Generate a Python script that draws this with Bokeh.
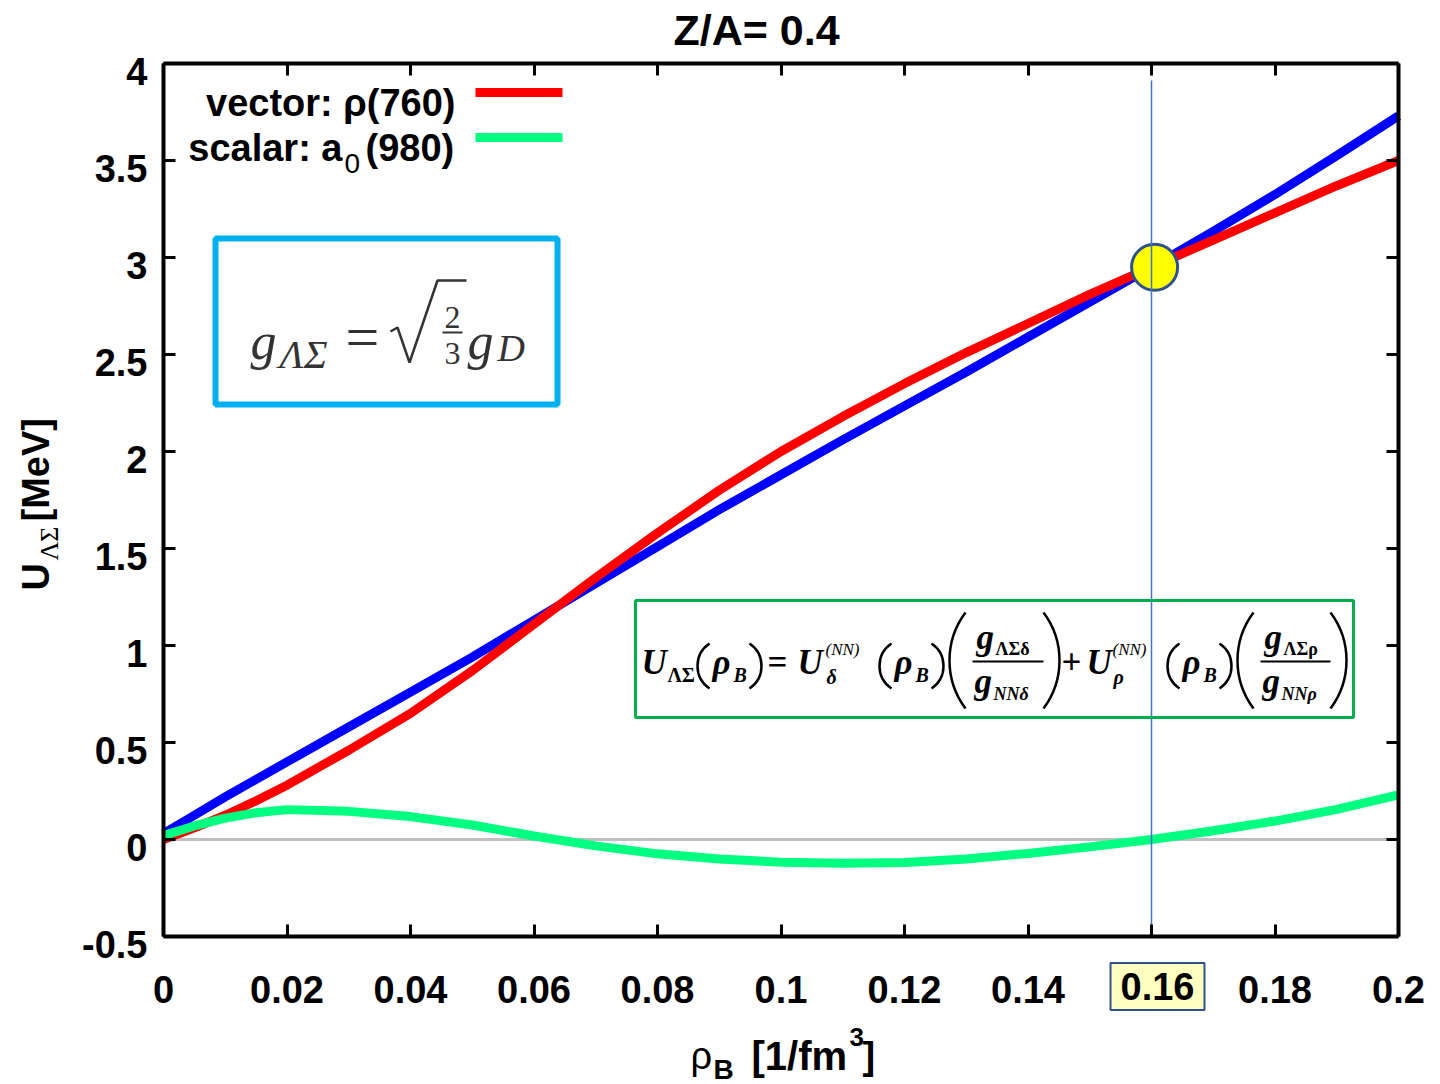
import math
from bokeh.plotting import figure
from bokeh.models import (Range1d, FixedTicker, CustomJSTickFormatter, LinearAxis,
                          Label, BoxAnnotation)
from bokeh.embed import file_html
from bokeh.resources import INLINE

# ---------------- data ----------------
rho = [0.0, 0.005, 0.01, 0.015, 0.02, 0.03, 0.04, 0.05, 0.06, 0.07, 0.08, 0.09,
       0.10, 0.11, 0.12, 0.13, 0.14, 0.15, 0.16, 0.17, 0.18, 0.19, 0.20]
u_vector = [0.0, 0.06, 0.125, 0.20, 0.28, 0.46, 0.65, 0.87, 1.11, 1.35, 1.58, 1.80,
            2.00, 2.18, 2.35, 2.51, 2.66, 2.81, 2.95, 3.09, 3.23, 3.37, 3.50]
u_scalar = [0.02, 0.07, 0.11, 0.138, 0.154, 0.145, 0.118, 0.075, 0.018, -0.033, -0.074, -0.10,
            -0.117, -0.123, -0.118, -0.10, -0.072, -0.038, 0.0, 0.045, 0.095, 0.155, 0.23]
u_total = [0.03, 0.125, 0.22, 0.31, 0.40, 0.58, 0.76, 0.94, 1.13, 1.32, 1.51, 1.70,
           1.88, 2.06, 2.235, 2.41, 2.59, 2.77, 2.95, 3.135, 3.325, 3.525, 3.73]
x_ticks = [0, 0.02, 0.04, 0.06, 0.08, 0.1, 0.12, 0.14, 0.16, 0.18, 0.2]
y_ticks = [-0.5, 0, 0.5, 1, 1.5, 2, 2.5, 3, 3.5, 4]
saturation_rho = 0.16
crossing_rho = 0.1605
crossing_u = 2.95

# ---------------- geometry: frame covers the whole page ----------------
W, H = 1440, 1084
FX0, FX1 = 163, 1398      # pixel span of x = 0 .. 0.2
FY0, FY1 = 63, 936        # pixel span of y = 4 .. -0.5
XMIN, XMAX = x_ticks[0], x_ticks[-1]
YMIN, YMAX = y_ticks[0], y_ticks[-1]

def dx(px):
    return XMIN + (px - FX0) / (FX1 - FX0) * (XMAX - XMIN)

def dy(py):
    return YMAX - (py - FY0) / (FY1 - FY0) * (YMAX - YMIN)

p = figure(frame_width=W, frame_height=H,
           x_range=Range1d(dx(0), dx(W)), y_range=Range1d(dy(H), dy(0)),
           output_backend="svg", toolbar_location=None,
           min_border_left=0, min_border_right=0, min_border_top=0, min_border_bottom=0)
p.title.visible = False
p.background_fill_color = "white"
p.border_fill_color = "white"
p.xgrid.visible = False
p.ygrid.visible = False
p.outline_line_color = None

FONT = "Liberation Sans"
SERIF = "Liberation Serif"

def style_axis(ax):
    ax.axis_line_width = 4
    ax.axis_line_color = "black"
    ax.major_tick_in = 12
    ax.major_tick_out = 0
    ax.major_tick_line_width = 3
    ax.minor_tick_line_color = None
    ax.major_label_text_font = FONT
    ax.major_label_text_font_style = "bold"
    ax.major_label_text_font_size = "38px"
    ax.major_label_text_color = "black"

xa = p.xaxis[0]
xa.ticker = FixedTicker(ticks=x_ticks)
xa.formatter = CustomJSTickFormatter(code="""
if (Math.abs(tick - 0.16) < 1e-9) { return ''; }
return String(parseFloat(tick.toFixed(2)));""")
style_axis(xa)
xa.major_label_standoff = 39
xa.fixed_location = YMIN
xa.bounds = (XMIN, XMAX)

ya = p.yaxis[0]
ya.ticker = FixedTicker(ticks=y_ticks)
ya.formatter = CustomJSTickFormatter(code="return '';")
style_axis(ya)
ya.major_label_standoff = 0
ya.fixed_location = XMIN
ya.bounds = (YMIN, YMAX)

# y tick labels sit slightly below their ticks in the original
SHIFT = 8 / 194
ylab = LinearAxis(ticker=FixedTicker(ticks=[t - SHIFT for t in y_ticks]),
                  formatter=CustomJSTickFormatter(
                      code=f"return String(parseFloat((tick + {SHIFT}).toFixed(1)));"))
style_axis(ylab)
ylab.axis_line_color = None
ylab.major_tick_line_color = None
ylab.major_label_standoff = 16
ylab.fixed_location = XMIN
ylab.bounds = (dy(H), dy(0))
p.add_layout(ylab, "left")

for loc, ticks, fixed, bnds in (("right", y_ticks, XMAX, (YMIN, YMAX)),
                                ("above", x_ticks, YMAX, (XMIN, XMAX))):
    ax = LinearAxis(ticker=FixedTicker(ticks=ticks),
                    formatter=CustomJSTickFormatter(code="return '';"))
    style_axis(ax)
    ax.major_label_text_font_size = "0px"
    ax.major_label_standoff = 0
    ax.fixed_location = fixed
    ax.bounds = bnds
    p.add_layout(ax, loc)

BASE_FIX = 0.32  # empirical baseline correction (fraction of font size)

def txt(px, py, s, size, style="normal", font=FONT, color="black", align="left",
        angle=0.0, baseline="alphabetic", **kw):
    if baseline == "alphabetic":
        if angle == 0.0:
            py = py - BASE_FIX * size
        else:
            px = px - BASE_FIX * size
    lab = Label(x=dx(px), y=dy(py), text=s, text_font=font, text_font_size=f"{size}px",
                text_font_style=style, text_color=color, text_align=align,
                text_baseline=baseline, angle=angle, **kw)
    p.add_layout(lab)

def paren(xl, xr, yt, yb, opening=True, width=2.5, color="black"):
    h = yb - yt
    s = xr - xl
    r = (h * h / 4 + s * s) / (2 * s)
    th = math.asin((h / 2) / r)
    cy = (yt + yb) / 2
    if opening:
        cx = xl + r
        a0, a1 = math.pi - th, math.pi + th
    else:
        cx = xr - r
        a0, a1 = -th, th
    p.arc(x=[dx(cx)], y=[dy(cy)], radius=[r], radius_units="screen",
          start_angle=[a0], end_angle=[a1], line_color=color, line_width=width)

# zero line
p.segment(x0=[XMIN], y0=[0], x1=[XMAX], y1=[0], line_color="#c0c0c0", line_width=3)

# curves
p.line(rho, u_total, line_color="#0000ff", line_width=9)
p.line(rho, u_vector, line_color="#ff0000", line_width=9)
p.line(rho, u_scalar, line_color="#00ff80", line_width=9)

# crossing marker and saturation density line
p.scatter(x=[crossing_rho], y=[crossing_u], size=46, marker="circle",
          fill_color="#ffff00", line_color="#2f528f", line_width=3)
p.segment(x0=[saturation_rho], y0=[YMIN], x1=[saturation_rho], y1=[dy(80)],
          line_color="#4472c4", line_width=1.5)

# title
txt(756, 43, "Z/A= 0.4", 43, "bold", align="center")

# legend
txt(455, 115, "vector: ρ(760)", 38, "bold", align="right")
p.segment(x0=[dx(475)], y0=[dy(92)], x1=[dx(562)], y1=[dy(92)], line_color="#ff0000", line_width=9)
txt(342, 160, "scalar: a", 38, "bold", align="right")
txt(344, 172, "0", 28, "normal")
txt(365, 160, "(980)", 38, "bold")
p.segment(x0=[dx(475)], y0=[dy(137)], x1=[dx(562)], y1=[dy(137)], line_color="#00ff80", line_width=9)

# axis labels
txt(690, 1068, "ρ", 38, "normal")
txt(713, 1078, "B", 28, "bold")
txt(751, 1068, "[1/fm", 40, "bold")
txt(849, 1045, "3", 26, "bold")
txt(862, 1068, "]", 38, "bold")

txt(48, 590, "U", 38, "bold", angle=math.pi / 2)
txt(57, 560, "ΛΣ", 26, "normal", font=SERIF, angle=math.pi / 2)
txt(48, 521, "[MeV]", 38, "bold", angle=math.pi / 2)

# highlighted 0.16 tick label
txt(1157, 986, "0.16", 38, "bold", align="center", baseline="middle",
    background_fill_color="#ffffc0", border_line_color="#2f528f", border_line_width=2,
    padding=10)

# ---- cyan box: g_ΛΣ = sqrt(2/3) g_D ----
p.add_layout(BoxAnnotation(left=dx(215), right=dx(557), top=dy(238), bottom=dy(404),
                           fill_alpha=0, line_color="#00b0f0", line_alpha=1.0, line_width=6))
GREY = "#333333"
txt(250, 358, "g", 52, "italic", font=SERIF, color=GREY)
txt(279, 367, "ΛΣ", 40, "italic", font=SERIF, color=GREY)
txt(345, 356, "=", 60, "normal", font=SERIF, color=GREY)
rad_x = [390, 397, 409, 437, 466]
rad_y = [331, 327, 362, 280, 280]
p.line([dx(v) for v in rad_x], [dy(v) for v in rad_y], line_color=GREY, line_width=2.5)
txt(452, 327, "2", 32, "normal", font=SERIF, color=GREY, align="center")
p.segment(x0=[dx(442)], y0=[dy(332)], x1=[dx(462)], y1=[dy(332)], line_color=GREY, line_width=2)
txt(452, 363, "3", 32, "normal", font=SERIF, color=GREY, align="center")
txt(467, 358, "g", 52, "italic", font=SERIF, color=GREY)
txt(497, 360, "D", 38, "italic", font=SERIF, color=GREY)

# ---- green box: U_ΛΣ formula ----
p.add_layout(BoxAnnotation(left=dx(635), right=dx(1353), top=dy(600), bottom=dy(717),
                           fill_alpha=0, line_color="#00b050", line_alpha=1.0, line_width=3))
BI = "bold italic"
txt(641, 673, "U", 35, BI, font=SERIF)
txt(667, 681, "ΛΣ", 20, "bold", font=SERIF)
paren(697, 709, 643, 688, True)
txt(712, 673, "ρ", 35, BI, font=SERIF)
txt(733, 681, "B", 20, BI, font=SERIF)
paren(749, 761, 643, 688, False)
txt(767, 673, "=", 35, "bold", font=SERIF)
txt(797, 673, "U", 35, BI, font=SERIF)
txt(825, 654, "(NN)", 17, "italic", font=SERIF)
txt(826, 683, "δ", 20, BI, font=SERIF)
paren(879, 891, 643, 688, True)
txt(894, 673, "ρ", 35, BI, font=SERIF)
txt(915, 681, "B", 20, BI, font=SERIF)
paren(931, 943, 643, 688, False)
paren(949, 965, 612, 708, True)
txt(976, 648, "g", 35, BI, font=SERIF)
txt(995, 654, "ΛΣδ", 18, "bold", font=SERIF)
p.segment(x0=[dx(972)], y0=[dy(661)], x1=[dx(1043)], y1=[dy(661)], line_color="black", line_width=2)
txt(974, 692, "g", 35, BI, font=SERIF)
txt(993, 699, "NNδ", 18, BI, font=SERIF)
paren(1043, 1059, 612, 708, False)
txt(1061, 673, "+", 35, "bold", font=SERIF)
txt(1086, 673, "U", 35, BI, font=SERIF)
txt(1112, 654, "(NN)", 17, "italic", font=SERIF)
txt(1113, 683, "ρ", 20, BI, font=SERIF)
paren(1167, 1179, 643, 688, True)
txt(1182, 673, "ρ", 35, BI, font=SERIF)
txt(1203, 681, "B", 20, BI, font=SERIF)
paren(1219, 1231, 643, 688, False)
paren(1237, 1253, 612, 708, True)
txt(1264, 648, "g", 35, BI, font=SERIF)
txt(1283, 654, "ΛΣρ", 18, "bold", font=SERIF)
p.segment(x0=[dx(1260)], y0=[dy(661)], x1=[dx(1330)], y1=[dy(661)], line_color="black", line_width=2)
txt(1262, 692, "g", 35, BI, font=SERIF)
txt(1281, 699, "NNρ", 18, BI, font=SERIF)
paren(1330, 1346, 612, 708, False)

open("out.html", "w").write(file_html(p, INLINE))
